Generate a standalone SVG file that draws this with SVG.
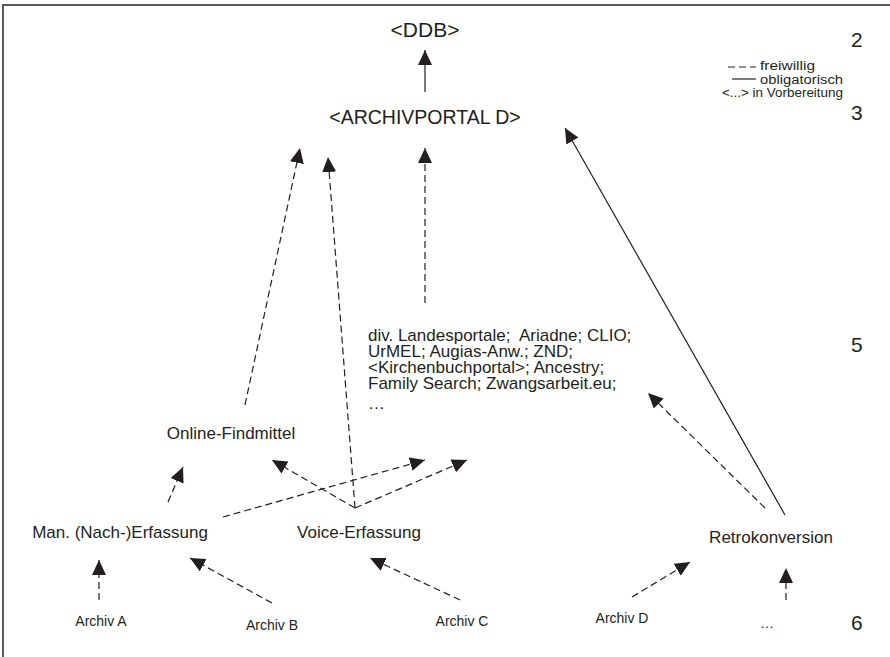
<svg xmlns="http://www.w3.org/2000/svg" width="890" height="657" viewBox="0 0 890 657">
<style>
text{font-family:"Liberation Sans",Arial,sans-serif;fill:#231f20}
.n{font-size:17px}
.big{font-size:20px}
.lg{font-size:12.5px}
.sm{font-size:14px}
.num{font-size:21px}
.c{stroke:#231f20;stroke-width:1.2;fill:none}
.d{stroke-dasharray:7,4}
</style>
<defs>
<marker id="ah" viewBox="0 0 15 14" refX="15" refY="7" markerWidth="15" markerHeight="14" markerUnits="userSpaceOnUse" orient="auto">
<path d="M0,0 L15,7 L0,14 z" fill="#231f20"/>
</marker>
</defs>
<rect width="890" height="657" fill="#fff"/>
<path d="M3,657 L3,5 L890,5" fill="none" stroke="#5a5a5a" stroke-width="2"/>

<g id="levels">
<text class="num" x="851" y="47">2</text>
<text class="num" x="851" y="120">3</text>
<text class="num" x="851" y="352">5</text>
<text class="num" x="851" y="630">6</text>
</g>

<g id="legend">
<line class="c d" x1="728" y1="67" x2="756" y2="67" stroke-dasharray="6,4"/>
<text class="lg" x="760" y="70" textLength="55" lengthAdjust="spacingAndGlyphs">freiwillig</text>
<line class="c" x1="732" y1="79" x2="756" y2="79"/>
<text class="lg" x="760" y="84" textLength="83" lengthAdjust="spacingAndGlyphs">obligatorisch</text>
<text class="lg" x="722" y="97" textLength="121" lengthAdjust="spacingAndGlyphs">&lt;...&gt; in Vorbereitung</text>
</g>

<g id="ddb"><text class="big" x="425" y="37" text-anchor="middle" style="font-size:21px">&lt;DDB&gt;</text></g>
<g id="archivportal"><text class="big" x="425" y="124" text-anchor="middle" style="font-size:19.5px">&lt;ARCHIVPORTAL D&gt;</text></g>
<g id="landesportale">
<text class="n" x="368" y="341">div. Landesportale;&#160; Ariadne; CLIO;</text>
<text class="n" x="368" y="357">UrMEL; Augias-Anw.; ZND;</text>
<text class="n" x="368" y="373">&lt;Kirchenbuchportal&gt;; Ancestry;</text>
<text class="n" x="368" y="389">Family Search; Zwangsarbeit.eu;</text>
<text class="n" x="368" y="409">…</text>
</g>
<g id="online"><text class="n" x="231" y="439" text-anchor="middle">Online-Findmittel</text></g>
<g id="man"><text class="n" x="120" y="538" text-anchor="middle">Man. (Nach-)Erfassung</text></g>
<g id="voice"><text class="n" x="359" y="538" text-anchor="middle">Voice-Erfassung</text></g>
<g id="retro"><text class="n" x="771" y="543" text-anchor="middle">Retrokonversion</text></g>
<g id="archivA"><text class="sm" x="101" y="626" text-anchor="middle">Archiv A</text></g>
<g id="archivB"><text class="sm" x="272" y="630" text-anchor="middle">Archiv B</text></g>
<g id="archivC"><text class="sm" x="462" y="626" text-anchor="middle">Archiv C</text></g>
<g id="archivD"><text class="sm" x="622" y="623" text-anchor="middle">Archiv D</text></g>
<g id="archivMore"><text class="sm" x="767" y="628" text-anchor="middle">…</text></g>

<g id="connectors">
<line class="c" x1="425" y1="92" x2="425" y2="50" marker-end="url(#ah)"/>
<line class="c d" x1="425" y1="303" x2="425" y2="148" marker-end="url(#ah)"/>
<line class="c d" x1="245" y1="405" x2="300" y2="148" marker-end="url(#ah)"/>
<line class="c d" x1="355" y1="508" x2="328" y2="157" marker-end="url(#ah)"/>
<line class="c d" x1="355" y1="508" x2="272" y2="460" marker-end="url(#ah)"/>
<line class="c d" x1="355" y1="508" x2="467" y2="460" marker-end="url(#ah)"/>
<line class="c d" x1="223" y1="517" x2="425" y2="460" marker-end="url(#ah)"/>
<line class="c d" x1="168" y1="502" x2="183" y2="467" marker-end="url(#ah)"/>
<line class="c" x1="785" y1="515" x2="565" y2="128" marker-end="url(#ah)"/>
<line class="c d" x1="765" y1="508" x2="648" y2="393" marker-end="url(#ah)"/>
<line class="c d" x1="99" y1="600" x2="99" y2="560" marker-end="url(#ah)"/>
<line class="c d" x1="272" y1="603" x2="190" y2="558" marker-end="url(#ah)"/>
<line class="c d" x1="460" y1="600" x2="370" y2="558" marker-end="url(#ah)"/>
<line class="c d" x1="632" y1="597" x2="690" y2="562" marker-end="url(#ah)"/>
<line class="c d" x1="786" y1="600" x2="786" y2="568" marker-end="url(#ah)"/>
</g>
</svg>
